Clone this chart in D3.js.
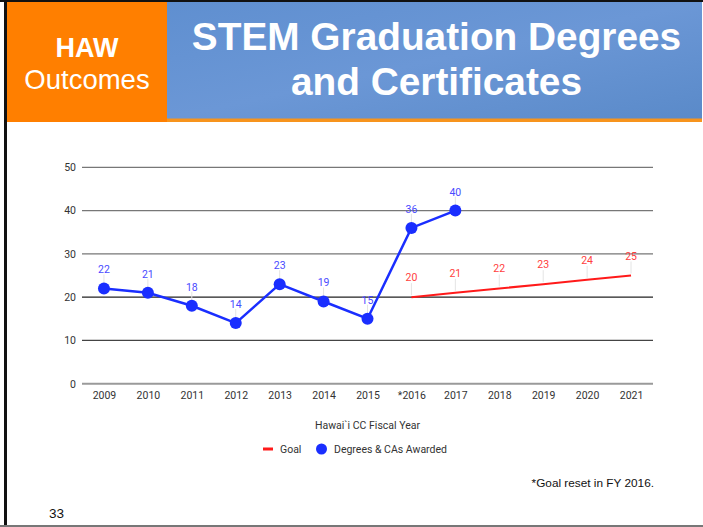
<!DOCTYPE html>
<html><head><meta charset="utf-8">
<script src="https://cdn.jsdelivr.net/npm/d3@7"></script>
<style>body{margin:0;background:#fff}svg{display:block}</style>
</head><body>
<script>
const years = ["2009","2010","2011","2012","2013","2014","2015","*2016","2017","2018","2019","2020","2021"];
const awarded = [22,21,18,14,23,19,15,36,40,null,null,null,null];
const goal = [null,null,null,null,null,null,null,20,21,22,23,24,25];
const yTicks = [0,10,20,30,40,50];
const gridColors = ["#9a9a9a","#444","#222","#777","#777","#777"];

(function(){
const W=703,H=527;
const svg=d3.select("body").append("svg").attr("width",W).attr("height",H);
const font="Roboto, 'Liberation Sans', Arial, sans-serif";

svg.append("rect").attr("x",0).attr("y",0).attr("width",W).attr("height",H).attr("fill","#fff");
svg.append("rect").attr("x",7).attr("y",2).attr("width",160).attr("height",120).attr("fill","#ff7f00");
const grad=svg.append("defs").append("linearGradient").attr("id","bg").attr("x1",0).attr("y1",0).attr("x2",1).attr("y2",1);
grad.append("stop").attr("offset",0).attr("stop-color","#5f8fd0");
grad.append("stop").attr("offset",0.5).attr("stop-color","#6b97d6");
grad.append("stop").attr("offset",1).attr("stop-color","#5a8ac9");
svg.append("rect").attr("x",167).attr("y",2).attr("width",535).attr("height",117).attr("fill","url(#bg)");
svg.append("rect").attr("x",167).attr("y",118.5).attr("width",535).attr("height",3.5).attr("fill","#f7941d");
svg.append("rect").attr("x",0).attr("y",0).attr("width",W).attr("height",2).attr("fill","#111");
svg.append("rect").attr("x",4).attr("y",0).attr("width",3).attr("height",H).attr("fill","#111");
svg.append("rect").attr("x",0).attr("y",525).attr("width",W).attr("height",2).attr("fill","#777");

const hf="'Liberation Sans', Arial, sans-serif";
svg.append("text").attr("x",87).attr("y",57).attr("text-anchor","middle").attr("fill","#fff")
  .attr("font-family",hf).attr("font-weight","bold").attr("font-size",27).text("HAW");
svg.append("text").attr("x",87).attr("y",89).attr("text-anchor","middle").attr("fill","#fff")
  .attr("font-family",hf).attr("font-size",27.5).text("Outcomes");
svg.append("text").attr("x",436.5).attr("y",50).attr("text-anchor","middle").attr("fill","#fff")
  .attr("font-family",hf).attr("font-weight","bold").attr("font-size",38.8).text("STEM Graduation Degrees");
svg.append("text").attr("x",436.5).attr("y",95).attr("text-anchor","middle").attr("fill","#fff")
  .attr("font-family",hf).attr("font-weight","bold").attr("font-size",38.8).text("and Certificates");

const pl=82,pr=653,pt=167.3,pb=383.7;
const x=d3.scalePoint().domain(years).range([pl,pr]).padding(0.5);
const y=d3.scaleLinear().domain([0,50]).range([pb,pt]);

const g=svg.append("g");
yTicks.forEach((t,i)=>{
  g.append("line").attr("x1",pl).attr("x2",pr).attr("y1",y(t)).attr("y2",y(t))
   .attr("stroke",gridColors[i]).attr("stroke-width",t===0?2:1.3);
});
const yAxis=g.append("g").attr("transform",`translate(${pl},0)`)
  .call(d3.axisLeft(y).tickValues(yTicks).tickSize(0).tickPadding(6));
yAxis.select(".domain").remove();
yAxis.selectAll("text").attr("font-family",font).attr("font-size",10.5).attr("fill","#333");

const xAxis=g.append("g").attr("transform",`translate(0,${pb})`)
  .call(d3.axisBottom(x).tickSize(0).tickPadding(8));
xAxis.select(".domain").remove();
xAxis.selectAll("text").attr("font-family",font).attr("font-size",10.5).attr("fill","#333");

svg.append("text").attr("x",(pl+pr)/2).attr("y",429).attr("text-anchor","middle")
  .attr("font-family",font).attr("font-size",10.5).attr("fill","#333").text("Hawai`i CC Fiscal Year");

const goalPts=years.map((d,i)=>({k:d,v:goal[i]})).filter(d=>d.v!=null);
const awPts=years.map((d,i)=>({k:d,v:awarded[i]})).filter(d=>d.v!=null);
const line=d3.line().x(d=>x(d.k)).y(d=>y(d.v));

function leaders(pts,off){
  g.selectAll(null).data(pts).enter().append("line")
   .attr("x1",d=>x(d.k)).attr("x2",d=>x(d.k))
   .attr("y1",d=>y(d.v)-2).attr("y2",d=>y(d.v)-off)
   .attr("stroke","#e4e4e4").attr("stroke-width",1);
}
leaders(goalPts,14);
leaders(awPts,14);

g.append("path").datum(goalPts).attr("d",line).attr("fill","none").attr("stroke","#ff1a1a").attr("stroke-width",2);
g.append("path").datum(awPts).attr("d",line).attr("fill","none").attr("stroke","#1a2eff").attr("stroke-width",2.5);
g.selectAll(null).data(awPts).enter().append("circle")
  .attr("cx",d=>x(d.k)).attr("cy",d=>y(d.v)).attr("r",6).attr("fill","#1a2eff");

g.selectAll(null).data(goalPts).enter().append("text")
  .attr("x",d=>x(d.k)).attr("y",d=>y(d.v)-16).attr("text-anchor","middle")
  .attr("font-family",font).attr("font-size",10.5).attr("fill","#ff4040").text(d=>d.v);
g.selectAll(null).data(awPts).enter().append("text")
  .attr("x",d=>x(d.k)).attr("y",d=>y(d.v)-15).attr("text-anchor","middle")
  .attr("font-family",font).attr("font-size",10.5).attr("fill","#4a4aff").text(d=>d.v);

const lg=svg.append("g");
lg.append("rect").attr("x",263).attr("y",447.5).attr("width",10).attr("height",3).attr("fill","#ff1a1a");
lg.append("text").attr("x",280).attr("y",453).attr("font-family",font).attr("font-size",10.5).attr("fill","#333").text("Goal");
lg.append("circle").attr("cx",321.5).attr("cy",449).attr("r",5.5).attr("fill","#1a2eff");
lg.append("text").attr("x",334).attr("y",453).attr("font-family",font).attr("font-size",10.5).attr("fill","#333").text("Degrees & CAs Awarded");

svg.append("text").attr("x",654).attr("y",487).attr("text-anchor","end").attr("font-family",hf)
  .attr("font-size",11.8).attr("fill","#111").text("*Goal reset in FY 2016.");
svg.append("text").attr("x",49).attr("y",518).attr("font-family",hf)
  .attr("font-size",13.5).attr("fill","#111").text("33");
})();
</script>
</body></html>
